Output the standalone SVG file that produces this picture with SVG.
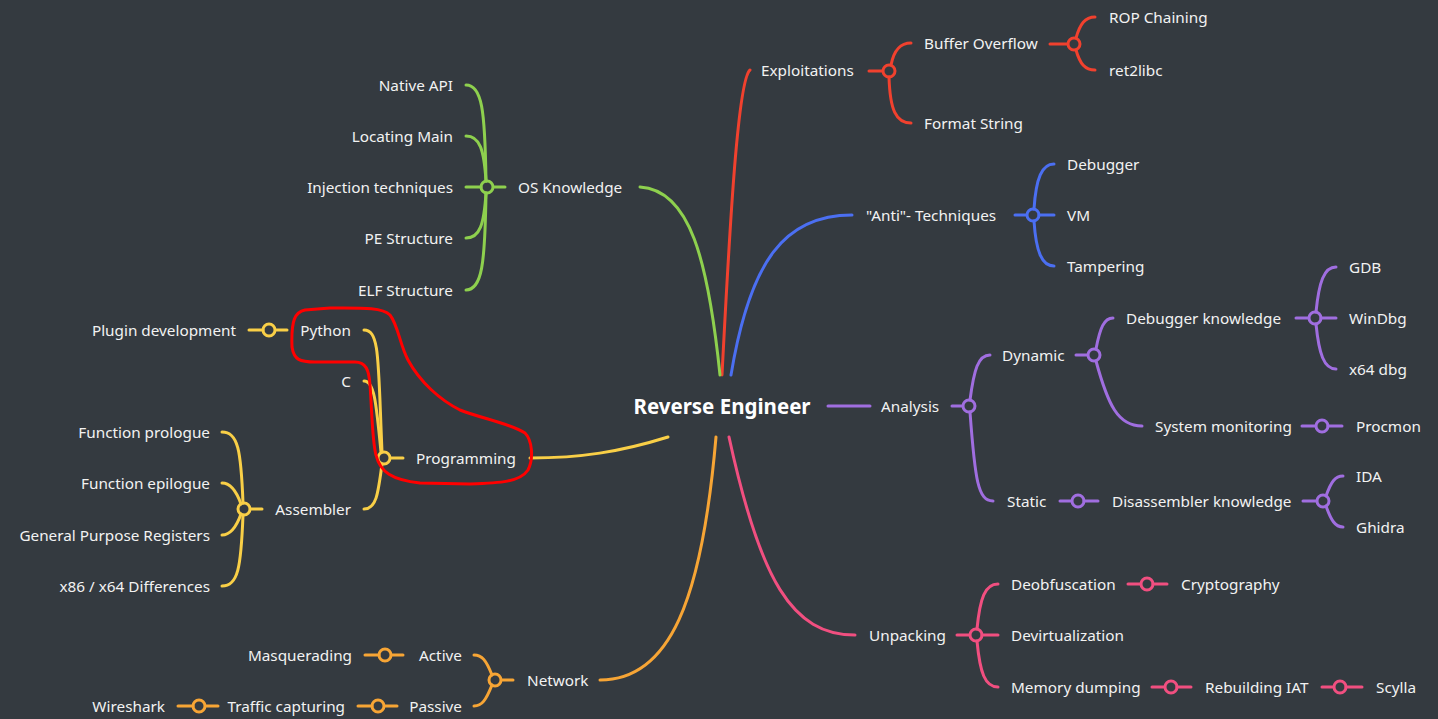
<svg xmlns="http://www.w3.org/2000/svg" width="1438" height="719" viewBox="0 0 1438 719">
<style>
.t{font-family:"Noto Sans","Open Sans",sans-serif;font-size:15.3px;fill:#f2f2f2}
.e{text-anchor:end}
.title{font-family:"Noto Sans","Open Sans",sans-serif;font-size:20.5px;font-weight:bold;fill:#ffffff;text-anchor:middle}
path,line,circle{fill:none;stroke-width:3;stroke-linecap:round}
circle{fill:#343a40}
.red{stroke:#f1412e}.grn{stroke:#8ed04e}.blu{stroke:#4b6ff2}.pur{stroke:#a06ee0}.pnk{stroke:#f14f80}.org{stroke:#f7a535}.yel{stroke:#f9cf47}
</style>
<rect width="1438" height="719" fill="#343a40"/>
<g id="connectors">
<path class="red" d="M722 375 C730 220 738 80 750 70"/>
<path class="grn" d="M720 375 C708 260 690 190 640 187"/>
<path class="blu" d="M731 375 C750 260 785 215 852 215"/>
<path class="yel" d="M668 437 C620 452 580 458 530 458"/>
<path class="org" d="M716 437 C702 600 670 680 600 680"/>
<path class="pnk" d="M729 437 C760 580 792 635 855 635"/>
<line class="pur" x1="828" y1="406" x2="870" y2="406"/>
<line class="red" x1="869" y1="71" x2="883" y2="71"/>
<circle class="red" cx="889" cy="71" r="6"/>
<path class="red" d="M891 65 C894 50 900 43 911 43"/>
<path class="red" d="M889 77 C890 110 896 123 911 123"/>
<line class="red" x1="1050" y1="44" x2="1068" y2="44"/>
<circle class="red" cx="1074" cy="44" r="6"/>
<path class="red" d="M1076 38 C1080 24 1085 17 1095 17"/>
<path class="red" d="M1076 50 C1080 64 1085 70 1095 70"/>
<line class="blu" x1="1015" y1="215" x2="1027" y2="215"/>
<circle class="blu" cx="1033" cy="215" r="6"/>
<path class="blu" d="M1034 209 C1036 178 1042 164 1054 164"/>
<line class="blu" x1="1039" y1="215" x2="1054" y2="215"/>
<path class="blu" d="M1034 221 C1036 252 1042 266 1054 266"/>
<line class="grn" x1="505" y1="187" x2="493" y2="187"/>
<circle class="grn" cx="487" cy="187" r="6"/>
<path class="grn" d="M486 181 C485 110 482 85 466 85"/>
<path class="grn" d="M486 181 C484 150 480 136 466 136"/>
<line class="grn" x1="481" y1="187" x2="466" y2="187"/>
<path class="grn" d="M486 193 C484 224 480 238 466 238"/>
<path class="grn" d="M486 193 C485 264 482 290 466 290"/>
<line class="yel" x1="390" y1="458" x2="403" y2="458"/>
<circle class="yel" cx="384" cy="458" r="6"/>
<path class="yel" d="M382 452 C378 360 380 330 364 330"/>
<path class="yel" d="M381 452 C376 400 374 381 364 381"/>
<path class="yel" d="M382 464 C378 495 376 509 364 509"/>
<line class="yel" x1="287" y1="330" x2="275" y2="330"/>
<circle class="yel" cx="269" cy="330" r="6"/>
<line class="yel" x1="263" y1="330" x2="249" y2="330"/>
<line class="yel" x1="262" y1="509" x2="250" y2="509"/>
<circle class="yel" cx="244" cy="509" r="6"/>
<path class="yel" d="M243 503 C241 450 238 432 222 432"/>
<path class="yel" d="M241 504 C236 490 230 483 222 483"/>
<path class="yel" d="M241 514 C236 528 230 535 222 535"/>
<path class="yel" d="M243 515 C241 568 238 586 222 586"/>
<line class="org" x1="513" y1="680" x2="501" y2="680"/>
<circle class="org" cx="495" cy="680" r="6"/>
<path class="org" d="M492 675 C486 660 482 655 474 655"/>
<path class="org" d="M492 685 C486 700 482 706 474 706"/>
<line class="org" x1="403" y1="655" x2="391" y2="655"/>
<circle class="org" cx="385" cy="655" r="6"/>
<line class="org" x1="379" y1="655" x2="365" y2="655"/>
<line class="org" x1="397" y1="706" x2="384" y2="706"/>
<circle class="org" cx="378" cy="706" r="6"/>
<line class="org" x1="372" y1="706" x2="358" y2="706"/>
<line class="org" x1="218" y1="706" x2="205" y2="706"/>
<circle class="org" cx="199" cy="706" r="6"/>
<line class="org" x1="193" y1="706" x2="178" y2="706"/>
<line class="pur" x1="952" y1="406" x2="963" y2="406"/>
<circle class="pur" cx="969" cy="406" r="6"/>
<path class="pur" d="M970 400 C974 370 978 355 990 355"/>
<path class="pur" d="M970 412 C975 480 978 501 993 501"/>
<line class="pur" x1="1076" y1="355" x2="1088" y2="355"/>
<circle class="pur" cx="1094" cy="355" r="6"/>
<path class="pur" d="M1096 349 C1100 328 1104 318 1113 318"/>
<path class="pur" d="M1096 361 C1108 405 1118 426 1142 426"/>
<line class="pur" x1="1296" y1="318" x2="1309" y2="318"/>
<circle class="pur" cx="1315" cy="318" r="6"/>
<path class="pur" d="M1316 312 C1319 282 1324 267 1336 267"/>
<line class="pur" x1="1321" y1="318" x2="1336" y2="318"/>
<path class="pur" d="M1316 324 C1319 354 1324 369 1336 369"/>
<line class="pur" x1="1302" y1="426" x2="1316" y2="426"/>
<circle class="pur" cx="1322" cy="426" r="6"/>
<line class="pur" x1="1328" y1="426" x2="1342" y2="426"/>
<line class="pur" x1="1060" y1="501" x2="1072" y2="501"/>
<circle class="pur" cx="1078" cy="501" r="6"/>
<line class="pur" x1="1084" y1="501" x2="1098" y2="501"/>
<line class="pur" x1="1303" y1="501" x2="1317" y2="501"/>
<circle class="pur" cx="1323" cy="501" r="6"/>
<path class="pur" d="M1326 496 C1331 482 1335 476 1343 476"/>
<path class="pur" d="M1326 506 C1331 520 1335 527 1343 527"/>
<line class="pnk" x1="957" y1="635" x2="970" y2="635"/>
<circle class="pnk" cx="976" cy="635" r="6"/>
<path class="pnk" d="M977 629 C980 598 985 584 998 584"/>
<line class="pnk" x1="982" y1="635" x2="998" y2="635"/>
<path class="pnk" d="M977 641 C980 673 985 687 998 687"/>
<line class="pnk" x1="1128" y1="584" x2="1141" y2="584"/>
<circle class="pnk" cx="1147" cy="584" r="6"/>
<line class="pnk" x1="1153" y1="584" x2="1167" y2="584"/>
<line class="pnk" x1="1152" y1="687" x2="1165" y2="687"/>
<circle class="pnk" cx="1171" cy="687" r="6"/>
<line class="pnk" x1="1177" y1="687" x2="1191" y2="687"/>
<line class="pnk" x1="1322" y1="687" x2="1334" y2="687"/>
<circle class="pnk" cx="1340" cy="687" r="6"/>
<line class="pnk" x1="1346" y1="687" x2="1362" y2="687"/>
</g>
<g id="root"><text class="title" x="722" y="414">Reverse Engineer</text></g>
<g id="exploitations"><text class="t" x="761" y="76">Exploitations</text></g>
<g id="buffer-overflow"><text class="t" x="924" y="49">Buffer Overflow</text></g>
<g id="format-string"><text class="t" x="924" y="129">Format String</text></g>
<g id="rop"><text class="t" x="1109" y="23">ROP Chaining</text></g>
<g id="ret2libc"><text class="t" x="1109" y="76">ret2libc</text></g>
<g id="anti"><text class="t" x="866" y="221">"Anti"- Techniques</text></g>
<g id="debugger"><text class="t" x="1067" y="170">Debugger</text></g>
<g id="vm"><text class="t" x="1067" y="221">VM</text></g>
<g id="tampering"><text class="t" x="1067" y="272">Tampering</text></g>
<g id="os"><text class="t" x="518" y="193">OS Knowledge</text></g>
<g id="native-api"><text class="t e" x="453" y="91">Native API</text></g>
<g id="locating-main"><text class="t e" x="453" y="142">Locating Main</text></g>
<g id="injection"><text class="t e" x="453" y="193">Injection techniques</text></g>
<g id="pe"><text class="t e" x="453" y="244">PE Structure</text></g>
<g id="elf"><text class="t e" x="453" y="296">ELF Structure</text></g>
<g id="programming"><text class="t" x="416" y="464">Programming</text></g>
<g id="python"><text class="t e" x="351" y="336">Python</text></g>
<g id="c"><text class="t e" x="351" y="387">C</text></g>
<g id="plugin"><text class="t e" x="236" y="336">Plugin development</text></g>
<g id="assembler"><text class="t e" x="351" y="515">Assembler</text></g>
<g id="prologue"><text class="t e" x="210" y="438">Function prologue</text></g>
<g id="epilogue"><text class="t e" x="210" y="489">Function epilogue</text></g>
<g id="gpr"><text class="t e" x="210" y="541">General Purpose Registers</text></g>
<g id="x86"><text class="t e" x="210" y="592">x86 / x64 Differences</text></g>
<g id="network"><text class="t" x="527" y="686">Network</text></g>
<g id="active"><text class="t e" x="462" y="661">Active</text></g>
<g id="passive"><text class="t e" x="462" y="712">Passive</text></g>
<g id="masquerading"><text class="t e" x="352" y="661">Masquerading</text></g>
<g id="traffic"><text class="t e" x="345" y="712">Traffic capturing</text></g>
<g id="wireshark"><text class="t e" x="165" y="712">Wireshark</text></g>
<g id="analysis"><text class="t" x="881" y="412">Analysis</text></g>
<g id="dynamic"><text class="t" x="1002" y="361">Dynamic</text></g>
<g id="static"><text class="t" x="1007" y="507">Static</text></g>
<g id="dbg-knowledge"><text class="t" x="1126" y="324">Debugger knowledge</text></g>
<g id="gdb"><text class="t" x="1349" y="273">GDB</text></g>
<g id="windbg"><text class="t" x="1349" y="324">WinDbg</text></g>
<g id="x64dbg"><text class="t" x="1349" y="375">x64 dbg</text></g>
<g id="sysmon"><text class="t" x="1155" y="432">System monitoring</text></g>
<g id="procmon"><text class="t" x="1356" y="432">Procmon</text></g>
<g id="disasm"><text class="t" x="1112" y="507">Disassembler knowledge</text></g>
<g id="ida"><text class="t" x="1356" y="482">IDA</text></g>
<g id="ghidra"><text class="t" x="1356" y="533">Ghidra</text></g>
<g id="unpacking"><text class="t" x="869" y="641">Unpacking</text></g>
<g id="deobfuscation"><text class="t" x="1011" y="590">Deobfuscation</text></g>
<g id="devirt"><text class="t" x="1011" y="641">Devirtualization</text></g>
<g id="memdump"><text class="t" x="1011" y="693">Memory dumping</text></g>
<g id="crypto"><text class="t" x="1181" y="590">Cryptography</text></g>
<g id="iat"><text class="t" x="1205" y="693">Rebuilding IAT</text></g>
<g id="scylla"><text class="t" x="1376" y="693">Scylla</text></g>
<g id="annotation">
<path d="M292 347 C294 360 300 362 315 362 L355 362 C366 362 369 370 370 385 C372 410 372 440 376 455 C380 472 392 480 420 483 L470 484 C500 483 520 482 528 470 C534 458 532 440 525 433 C512 424 480 418 460 410 C440 400 420 382 408 360 C400 345 398 325 390 315 C382 307 360 308 330 308 L305 310 C295 312 291 320 292 347 Z" fill="none" stroke="#ff0000" stroke-width="3" stroke-linejoin="round"/>
</g>
</svg>
